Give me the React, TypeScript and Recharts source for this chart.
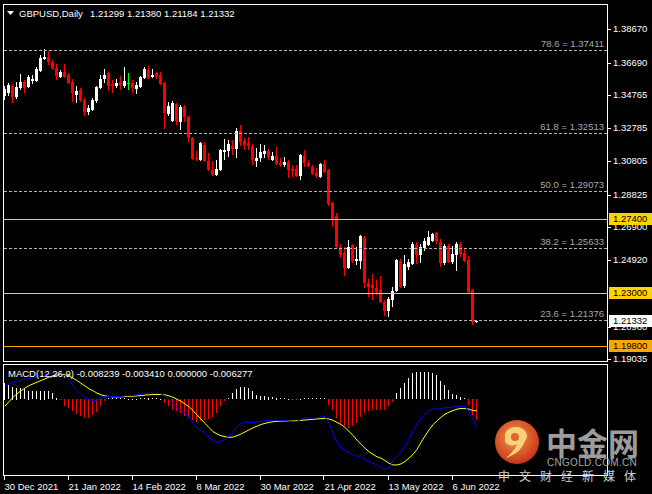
import React from "react";
import { ComposedChart, Bar, Line, XAxis, YAxis, ReferenceLine } from "recharts";

const FONT = "'Liberation Sans', Arial, sans-serif";

// x axis: one bar per trading day, 30 Dec 2021 .. 14 Jun 2022
const dateLabels = ["30 Dec 2021", "21 Jan 2022", "14 Feb 2022", "8 Mar 2022", "30 Mar 2022", "21 Apr 2022", "13 May 2022", "6 Jun 2022"];
const dateTickIdx = [0, 16, 32, 48, 64, 80, 96, 112];

const opens = [
  1.3470, 1.3488, 1.3530, 1.3464, 1.3518, 1.3554, 1.3524, 1.3559, 1.3559, 1.3619,
  1.3690, 1.3702, 1.3672, 1.3636, 1.3583, 1.3613, 1.3595, 1.3554, 1.3476, 1.3506,
  1.3446, 1.3375, 1.3387, 1.3440, 1.3518, 1.3571, 1.3607, 1.3542, 1.3530, 1.3554,
  1.3530, 1.3548, 1.3548, 1.3512, 1.3524, 1.3577, 1.3625, 1.3583, 1.3607, 1.3595,
  1.3548, 1.3363, 1.3321, 1.3423, 1.3315, 1.3405, 1.3345, 1.3220, 1.3101, 1.3089,
  1.3178, 1.3083, 1.3030, 1.3000, 1.3030, 1.3137, 1.3143, 1.3172, 1.3155, 1.3262,
  1.3202, 1.3190, 1.3172, 1.3083, 1.3101, 1.3125, 1.3143, 1.3089, 1.3113, 1.3071,
  1.3060, 1.3077, 1.3036, 1.3036, 1.2994, 1.3113, 1.3071, 1.3048, 1.3012, 1.2988,
  1.3066, 1.3030, 1.2833, 1.2756, 1.2571, 1.2536, 1.2447, 1.2583, 1.2488, 1.2488,
  1.2625, 1.2357, 1.2345, 1.2327, 1.2315, 1.2244, 1.2190, 1.2256, 1.2309, 1.2488,
  1.2339, 1.2453, 1.2470, 1.2583, 1.2524, 1.2565, 1.2583, 1.2607, 1.2655, 1.2601,
  1.2476, 1.2577, 1.2482, 1.2524, 1.2589, 1.2536, 1.2494, 1.2315, 1.21299,
];
const highs = [
  1.3530, 1.3548, 1.3542, 1.3554, 1.3601, 1.3565, 1.3595, 1.3595, 1.3642, 1.3714,
  1.3748, 1.3738, 1.3684, 1.3660, 1.3625, 1.3660, 1.3607, 1.3571, 1.3530, 1.3518,
  1.3458, 1.3417, 1.3458, 1.3530, 1.3595, 1.3630, 1.3613, 1.3565, 1.3571, 1.3589,
  1.3642, 1.3607, 1.3565, 1.3554, 1.3589, 1.3642, 1.3648, 1.3630, 1.3613, 1.3613,
  1.3554, 1.3434, 1.3440, 1.3428, 1.3417, 1.3417, 1.3351, 1.3226, 1.3143, 1.3196,
  1.3196, 1.3131, 1.3083, 1.3089, 1.3155, 1.3214, 1.3208, 1.3208, 1.3280, 1.3298,
  1.3220, 1.3226, 1.3184, 1.3161, 1.3184, 1.3178, 1.3155, 1.3137, 1.3167, 1.3101,
  1.3107, 1.3089, 1.3060, 1.3060, 1.3125, 1.3149, 1.3089, 1.3060, 1.3042, 1.3071,
  1.3089, 1.3036, 1.2838, 1.2774, 1.2589, 1.2571, 1.2613, 1.2589, 1.2571, 1.2643,
  1.2637, 1.2381, 1.2411, 1.2375, 1.2399, 1.2256, 1.2274, 1.2333, 1.2500, 1.2500,
  1.2524, 1.2500, 1.2601, 1.2601, 1.2589, 1.2625, 1.2667, 1.2655, 1.2661, 1.2619,
  1.2589, 1.2589, 1.2577, 1.2601, 1.2601, 1.2559, 1.2518, 1.2321, 1.21380,
];
const lows = [
  1.3446, 1.3470, 1.3428, 1.3452, 1.3506, 1.3488, 1.3518, 1.3542, 1.3554, 1.3613,
  1.3684, 1.3655, 1.3625, 1.3565, 1.3577, 1.3577, 1.3542, 1.3434, 1.3428, 1.3434,
  1.3351, 1.3357, 1.3381, 1.3428, 1.3512, 1.3548, 1.3500, 1.3488, 1.3518, 1.3506,
  1.3518, 1.3506, 1.3488, 1.3482, 1.3518, 1.3571, 1.3571, 1.3577, 1.3571, 1.3536,
  1.3273, 1.3351, 1.3315, 1.3298, 1.3268, 1.3315, 1.3196, 1.3089, 1.3083, 1.3083,
  1.3077, 1.3024, 1.2994, 1.2994, 1.3024, 1.3089, 1.3107, 1.3119, 1.3101, 1.3172,
  1.3149, 1.3149, 1.3060, 1.3048, 1.3077, 1.3101, 1.3089, 1.3083, 1.3060, 1.3048,
  1.3048, 1.2982, 1.2988, 1.2988, 1.2970, 1.3048, 1.3048, 1.3000, 1.2982, 1.2982,
  1.3012, 1.2815, 1.2690, 1.2565, 1.2506, 1.2399, 1.2441, 1.2476, 1.2464, 1.2441,
  1.2327, 1.2274, 1.2256, 1.2286, 1.2238, 1.2161, 1.2155, 1.2214, 1.2303, 1.2327,
  1.2327, 1.2434, 1.2464, 1.2470, 1.2476, 1.2547, 1.2577, 1.2601, 1.2589, 1.2453,
  1.2464, 1.2476, 1.2470, 1.2428, 1.2512, 1.2482, 1.2297, 1.2107, 1.21184,
];
const closes = [
  1.3512, 1.3536, 1.3464, 1.3524, 1.3554, 1.3518, 1.3583, 1.3571, 1.3630, 1.3696,
  1.3702, 1.3672, 1.3636, 1.3589, 1.3613, 1.3583, 1.3548, 1.3488, 1.3500, 1.3446,
  1.3375, 1.3399, 1.3446, 1.3524, 1.3571, 1.3595, 1.3530, 1.3530, 1.3548, 1.3536,
  1.3559, 1.3548, 1.3518, 1.3536, 1.3583, 1.3630, 1.3577, 1.3595, 1.3583, 1.3542,
  1.3369, 1.3411, 1.3428, 1.3321, 1.3405, 1.3345, 1.3220, 1.3095, 1.3095, 1.3190,
  1.3083, 1.3030, 1.3000, 1.3036, 1.3149, 1.3149, 1.3184, 1.3155, 1.3262, 1.3196,
  1.3178, 1.3172, 1.3089, 1.3101, 1.3137, 1.3143, 1.3107, 1.3113, 1.3066, 1.3060,
  1.3077, 1.3030, 1.3024, 1.2994, 1.3119, 1.3071, 1.3054, 1.3006, 1.2994, 1.3066,
  1.3018, 1.2827, 1.2738, 1.2571, 1.2524, 1.2447, 1.2571, 1.2488, 1.2500, 1.2637,
  1.2357, 1.2333, 1.2327, 1.2303, 1.2244, 1.2190, 1.2262, 1.2309, 1.2494, 1.2333,
  1.2470, 1.2482, 1.2589, 1.2524, 1.2571, 1.2607, 1.2631, 1.2649, 1.2607, 1.2476,
  1.2577, 1.2482, 1.2530, 1.2589, 1.2530, 1.2488, 1.2303, 1.2125, 1.21332,
];

const macdHist = [
  0.0049, 0.0042, 0.0037, 0.0034, 0.0032, 0.0029, 0.0025, 0.0023, 0.0023, 0.0025,
  0.0025, 0.0023, 0.0018, 0.0005, -0.0001, -0.0022, -0.0026, -0.0036, -0.0044, -0.0051,
  -0.0056, -0.0056, -0.0046, -0.0039, -0.0022, -0.0007, 0.0003, 0.0004, 0.0004, 0.0004,
  0.0004, 0.0002, 0.0001, 0.0002, 0.0003, 0.0004, 0.0005, 0.0004, 0.0003, 0.0001,
  -0.0012, -0.0022, -0.0031, -0.0036, -0.0041, -0.0049, -0.0056, -0.0063, -0.0069, -0.0066,
  -0.0061, -0.0059, -0.0053, -0.0041, -0.0022, -0.0007, 0.0003, 0.0018, 0.0029, 0.0035,
  0.0037, 0.0032, 0.0023, 0.0013, 0.0011, 0.0011, 0.0008, 0.0006, 0.0005, 0.0003,
  0.0003, 0.0001, -0.0003, -0.0003, 0.0001, 0.0003, 0.0004, 0.0004, 0.0004, 0.0004,
  0.0004, -0.0017, -0.0031, -0.0056, -0.0071, -0.0080, -0.0085, -0.0080, -0.0071, -0.0053,
  -0.0041, -0.0036, -0.0033, -0.0031, -0.0031, -0.0033, -0.0022, -0.0010, 0.0018, 0.0032,
  0.0047, 0.0062, 0.0076, 0.0079, 0.0079, 0.0079, 0.0079, 0.0078, 0.0072, 0.0055,
  0.0042, 0.0027, 0.0015, 0.0013, 0.0008, 0.0003, -0.0017, -0.0046, -0.0063,
];
const macdMain = [
  0.0042, 0.0045, 0.0049, 0.0053, 0.0056, 0.0059, 0.0061, 0.0064, 0.0067, 0.0070,
  0.0072, 0.0074, 0.0076, 0.0076, 0.0074, 0.0067, 0.0057, 0.0039, 0.0025, 0.0015,
  0.0006, 0.0000, -0.0004, -0.0002, 0.0003, 0.0007, 0.0008, 0.0008, 0.0008, 0.0008,
  0.0010, 0.0010, 0.0011, 0.0013, 0.0015, 0.0017, 0.0018, 0.0018, 0.0018, 0.0016,
  0.0010, -0.0002, -0.0012, -0.0024, -0.0031, -0.0041, -0.0053, -0.0071, -0.0085, -0.0092,
  -0.0100, -0.0112, -0.0122, -0.0127, -0.0124, -0.0118, -0.0108, -0.0095, -0.0080, -0.0071,
  -0.0067, -0.0067, -0.0069, -0.0067, -0.0065, -0.0062, -0.0061, -0.0061, -0.0061, -0.0062,
  -0.0063, -0.0064, -0.0067, -0.0065, -0.0059, -0.0054, -0.0054, -0.0056, -0.0054, -0.0052,
  -0.0051, -0.0069, -0.0100, -0.0127, -0.0141, -0.0151, -0.0157, -0.0162, -0.0169, -0.0164,
  -0.0178, -0.0183, -0.0188, -0.0194, -0.0200, -0.0208, -0.0202, -0.0180, -0.0169, -0.0154,
  -0.0137, -0.0118, -0.0095, -0.0073, -0.0056, -0.0044, -0.0033, -0.0029, -0.0029, -0.0027,
  -0.0025, -0.0024, -0.0022, -0.0020, -0.0020, -0.0022, -0.0036, -0.0059, -0.0082,
];
const macdSignal = [
  -0.0020, -0.0007, 0.0006, 0.0016, 0.0025, 0.0033, 0.0040, 0.0045, 0.0050, 0.0055,
  0.0060, 0.0065, 0.0069, 0.0071, 0.0073, 0.0072, 0.0069, 0.0062, 0.0055, 0.0047,
  0.0039, 0.0031, 0.0025, 0.0018, 0.0013, 0.0010, 0.0008, 0.0007, 0.0007, 0.0007,
  0.0008, 0.0008, 0.0009, 0.0010, 0.0011, 0.0012, 0.0013, 0.0014, 0.0014, 0.0014,
  0.0013, 0.0010, 0.0006, 0.0000, -0.0006, -0.0014, -0.0022, -0.0033, -0.0046, -0.0058,
  -0.0071, -0.0083, -0.0095, -0.0102, -0.0107, -0.0110, -0.0112, -0.0111, -0.0107, -0.0102,
  -0.0096, -0.0090, -0.0084, -0.0079, -0.0074, -0.0071, -0.0068, -0.0066, -0.0065, -0.0064,
  -0.0064, -0.0064, -0.0064, -0.0063, -0.0062, -0.0061, -0.0060, -0.0059, -0.0058, -0.0057,
  -0.0056, -0.0058, -0.0062, -0.0068, -0.0074, -0.0083, -0.0094, -0.0106, -0.0120, -0.0132,
  -0.0144, -0.0154, -0.0162, -0.0169, -0.0173, -0.0180, -0.0188, -0.0193, -0.0193, -0.0190,
  -0.0183, -0.0173, -0.0162, -0.0147, -0.0127, -0.0108, -0.0090, -0.0075, -0.0063, -0.0053,
  -0.0044, -0.0038, -0.0033, -0.0029, -0.0027, -0.0027, -0.0029, -0.0033, -0.0034,
];

const priceTicks = [1.3867, 1.3669, 1.34765, 1.32785, 1.30805, 1.28825, 1.269, 1.2492, 1.2096, 1.19035];
const fibNames = ["78.6", "61.8", "50.0", "38.2", "23.6"];
const fibValues = [1.37411, 1.32513, 1.29073, 1.25633, 1.21376];
const levelValues = [1.274, 1.23, 1.198];
const levelColors = ["#FFD200", "#FFD200", "#FFA500"];
const lastPrice = 1.21332;
const ohlcText = "1.21299 1.21380 1.21184 1.21332";
const macdTicks = [0.010357, 0, -0.022547];
const macdTickLabels = ["0.010357", "0.00", "-0.022547"];
const macdTitle = "MACD(12,26,9) -0.008239 -0.003410 0.000000 -0.006277";
const sloganChars = ["中", "文", "财", "经", "新", "媒", "体"];

const candles = opens.map((o, i) => ({
  i, open: o, high: highs[i], low: lows[i], close: closes[i], range: [lows[i], highs[i]],
}));
const macdRows = macdHist.map((h, i) => ({ i, hist: h, main: macdMain[i], signal: macdSignal[i] }));

function Candle(props: any) {
  const { x, y, width, height, payload } = props;
  if (height == null || !payload) return null;
  const { open, close, high, low } = payload;
  const top = Math.min(y, y + height);
  const h = Math.abs(height);
  const py = (v: number) => top + ((high - v) / (high - low || 1)) * h;
  const cx = Math.floor(x + width / 2);
  const bTop = Math.round(py(Math.max(open, close)));
  const bBot = Math.round(py(Math.min(open, close)));
  const color = open === close ? "#00FF00" : close > open ? "#FFFFFF" : "#FF0000";
  return (
    <g>
      <line x1={cx + 0.5} x2={cx + 0.5} y1={Math.round(top)} y2={Math.round(top + h)} stroke={color} />
      <rect x={cx - 1} y={bTop} width={3} height={Math.max(1, bBot - bTop)} fill={color} />
    </g>
  );
}

function HistBar(props: any) {
  const { x, y, width, height, payload } = props;
  if (height == null || !payload) return null;
  const top = Math.round(Math.min(y, y + height));
  const h = Math.max(1, Math.round(Math.abs(height)));
  const cx = Math.floor(x + width / 2);
  return <rect x={cx} y={top} width={1} height={h} fill={payload.hist >= 0 ? "#FFFFFF" : "#FF0000"} />;
}

const crispLine = (p: any) => (
  <line {...p} y1={Math.round(p.y1) + 0.5} y2={Math.round(p.y2) + 0.5} />
);

function PriceTick(props: any) {
  const { x, y, payload } = props;
  const v = payload.value;
  const yy = Math.round(y);
  const li = levelValues.indexOf(v);
  if (li >= 0 || v === lastPrice) {
    const bg = v === lastPrice ? "#FFFFFF" : levelColors[li];
    return (
      <g>
        <rect x={x - 4} y={yy - 6} width={43} height={12} fill={bg} />
        <text x={x} y={yy} dy="0.36em" fill="#000" fontSize={9.5} fontFamily={FONT}>{v.toFixed(5)}</text>
      </g>
    );
  }
  return (
    <g>
      <line x1={x - 6} x2={x - 2} y1={yy + 0.5} y2={yy + 0.5} stroke="#FFFFFF" />
      <text x={x} y={yy} dy="0.36em" fill="#FFFFFF" fontSize={9.5} fontFamily={FONT}>{v.toFixed(5)}</text>
    </g>
  );
}

function MacdTick(props: any) {
  const { x, y, payload } = props;
  const k = macdTicks.indexOf(payload.value);
  const yy = Math.round(Math.min(Math.max(y, 371), 469));
  return (
    <g>
      <line x1={x - 6} x2={x - 2} y1={yy + 0.5} y2={yy + 0.5} stroke="#FFFFFF" />
      <text x={x} y={yy} dy="0.36em" fill="#FFFFFF" fontSize={9.5} fontFamily={FONT}>{macdTickLabels[k]}</text>
    </g>
  );
}

function DateTick(props: any) {
  const { x, y, payload } = props;
  const k = dateTickIdx.indexOf(payload.value);
  const cx = Math.floor(x) - 0.5;
  return (
    <g>
      <line x1={cx} x2={cx} y1={y - 6} y2={y - 2} stroke="#FFFFFF" />
      <text x={x - 0.5} y={y} dy={7.5} fill="#FFFFFF" fontSize={9.5} fontFamily={FONT}>{dateLabels[k]}</text>
    </g>
  );
}

export default function App() {
  return (
    <div style={{ position: "absolute", left: 0, top: 0, width: 652, height: 494, background: "#000", overflow: "hidden", fontFamily: FONT }}>
      <div style={{ position: "absolute", left: 0, top: 0 }}>
        <ComposedChart width={652} height={364} data={candles} margin={{ top: 4, right: 0, bottom: 2, left: 3 }}>
          <XAxis type="number" dataKey="i" domain={[-0.5, 150.5]} hide allowDataOverflow />
          <YAxis
            orientation="right"
            width={45}
            domain={[1.18867, 1.40176]}
            allowDataOverflow
            ticks={[...priceTicks, lastPrice, ...levelValues]}
            interval={0}
            axisLine={false}
            tickLine={false}
            tickSize={4}
            tickMargin={2}
            tick={(p: any) => <PriceTick {...p} />}
          />
          {fibValues.map((v, k) => (
            <ReferenceLine
              key={fibNames[k]}
              y={v}
              stroke="#B4B4B4"
              strokeDasharray="3 2"
              shape={crispLine}
              label={{ value: `${fibNames[k]} = ${v.toFixed(5)}`, position: "insideBottomRight", offset: 3, fill: "#A8A8A8", fontSize: 9.5, fontFamily: FONT }}
            />
          ))}
          {levelValues.map((v, k) => (
            <ReferenceLine key={v} y={v} stroke={levelColors[k]} shape={crispLine} />
          ))}
          <Bar dataKey="range" barSize={3} shape={(p: any) => <Candle {...p} />} isAnimationActive={false} />
        </ComposedChart>
      </div>

      <div style={{ position: "absolute", left: 0, top: 360 }}>
        <ComposedChart width={652} height={134} data={macdRows} margin={{ top: 4, right: 0, bottom: 0, left: 3 }}>
          <XAxis
            type="number"
            dataKey="i"
            domain={[-0.5, 150.5]}
            allowDataOverflow
            ticks={dateTickIdx}
            interval={0}
            height={18}
            axisLine={false}
            tickLine={false}
            tickSize={4}
            tickMargin={2}
            tick={(p: any) => <DateTick {...p} />}
          />
          <YAxis
            orientation="right"
            width={45}
            domain={[-0.022547, 0.010357]}
            allowDataOverflow
            ticks={macdTicks}
            interval={0}
            axisLine={false}
            tickLine={false}
            tickSize={4}
            tickMargin={2}
            tick={(p: any) => <MacdTick {...p} />}
          />
          <Bar dataKey="hist" barSize={1} shape={(p: any) => <HistBar {...p} />} isAnimationActive={false} />
          <Line dataKey="signal" type="linear" stroke="#FFFF00" strokeWidth={1} dot={false} isAnimationActive={false} />
          <Line dataKey="main" type="linear" stroke="#0000FF" strokeWidth={1} dot={false} isAnimationActive={false} />
        </ComposedChart>
      </div>

      <svg width={652} height={494} style={{ position: "absolute", left: 0, top: 0, pointerEvents: "none" }}>
        <defs>
          <radialGradient id="logoGrad" cx="45%" cy="40%" r="60%">
            <stop offset="0%" stopColor="#F39A45" />
            <stop offset="100%" stopColor="#C9341B" />
          </radialGradient>
        </defs>
        {/* panel frames */}
        <g stroke="#FFFFFF" strokeWidth={1} fill="none">
          <rect x={3.5} y={4.5} width={604} height={357} />
          <rect x={3.5} y={364.5} width={604} height={111} />
        </g>
        {/* chart title */}
        <polygon points="7,11 14,11 10.5,15" fill="#FFFFFF" />
        <text x={19} y={16.5} fill="#FFFFFF" fontSize={9.5} fontFamily={FONT}>GBPUSD,Daily</text>
        <text x={90} y={16.5} fill="#FFFFFF" fontSize={9.5} fontFamily={FONT}>{ohlcText}</text>
        <text x={8} y={376.5} fill="#FFFFFF" fontSize={9.5} fontFamily={FONT}>{macdTitle}</text>
        {/* watermark */}
        <circle cx={517} cy={442} r={22} fill="url(#logoGrad)" />
        <path d="M 505 437 A 11 9 0 1 1 525 441 Q 521 453 506 458 Q 516 449 517 444 Q 510 448 505 442 Z" fill="#F8D27A" />
        <circle cx={515} cy={437} r={4} fill="#E0652A" />
        <text x={546} y={455} fill="#9C9C9C" fontSize={31} fontWeight={700} fontFamily="'Noto Sans CJK SC', sans-serif">中金网</text>
        <text x={547} y={466} fill="#A8A8A8" fontSize={10} fontFamily={FONT} letterSpacing={0.3}>CNGOLD.COM.CN</text>
        {sloganChars.map((ch, k) => (
          <text key={ch} x={498 + k * 21} y={481} fill="#D0D0D0" fontSize={12} fontFamily="'Noto Sans CJK SC', sans-serif">{ch}</text>
        ))}
      </svg>
    </div>
  );
}
